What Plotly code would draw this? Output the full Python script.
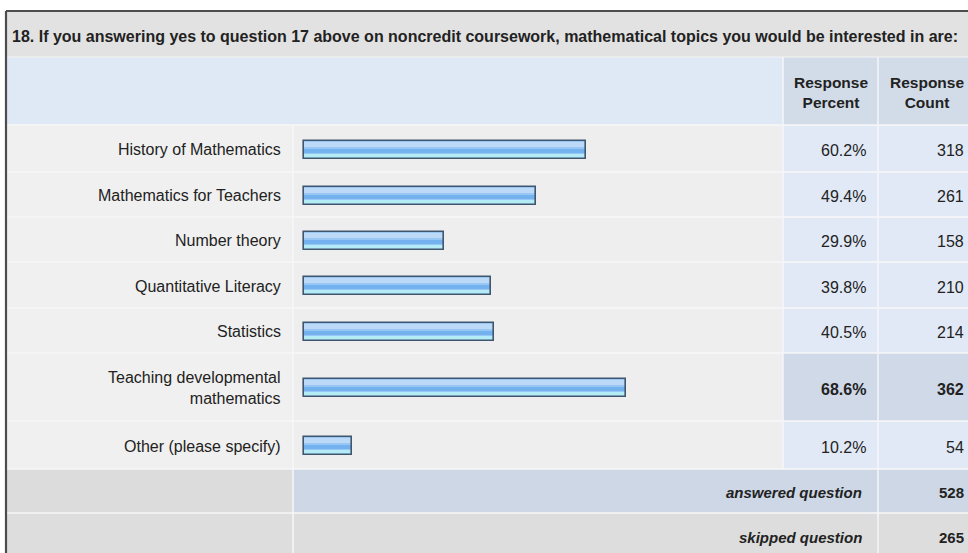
import plotly.graph_objects as go

# ---------------- data ----------------
title_text = "18. If you answering yes to question 17 above on noncredit coursework, mathematical topics you would be interested in are:"
categories = [
    "History of Mathematics",
    "Mathematics for Teachers",
    "Number theory",
    "Quantitative Literacy",
    "Statistics",
    "Teaching developmental<br>mathematics",
    "Other (please specify)",
]
percents = [60.2, 49.4, 29.9, 39.8, 40.5, 68.6, 10.2]
counts = [318, 261, 158, 210, 214, 362, 54]
summary_labels = ["answered question", "skipped question"]
summary_values = [528, 265]
header_labels = ["Response<br>Percent", "Response<br>Count"]

# ---------------- layout constants (pixels) ----------------
W, H = 968, 553
ROW_EDGES = [125, 172, 217, 262, 308, 353, 421, 469, 513, 560]
COL_LABEL_END = 293
COL_PCT_START = 783
COL_CNT_START = 878
BAR_X0, BAR_X100 = 304, 773
DOMAIN_X0 = 298
FONT = "Liberation Sans, Arial, sans-serif"
TXT = "#222222"


def px(x):
    """pixel x -> paper fraction"""
    return x / W


PPU = (BAR_X100 - BAR_X0) / 100.0
x_lo = -(BAR_X0 - DOMAIN_X0) / PPU

centers = [(ROW_EDGES[i] + ROW_EDGES[i + 1]) / 2 for i in range(len(ROW_EDGES) - 1)]
bar_centers = [c + 1 for c in centers[:len(categories)]]

shapes = []


def rect(x0, y0, x1, y1, color):
    shapes.append(dict(type="rect", xref="paper", yref="y", x0=px(x0), x1=px(x1), y0=y0, y1=y1,
                       fillcolor=color, line=dict(width=0), layer="below"))


def line(x0, y0, x1, y1, color, w):
    shapes.append(dict(type="line", xref="paper", yref="y", x0=px(x0), x1=px(x1), y0=y0, y1=y1,
                       line=dict(color=color, width=w), layer="below"))


RIGHT = W + 10
LEFT = 7
# title row
rect(LEFT, 12, RIGHT, 57, "#e2e2e2")
# header row
rect(LEFT, 57, RIGHT, ROW_EDGES[0], "#dfe8f5")
rect(COL_PCT_START, 57, RIGHT, ROW_EDGES[0], "#d2dce9")

# data rows
for i in range(len(categories)):
    y0, y1 = ROW_EDGES[i], ROW_EDGES[i + 1]
    rect(LEFT, y0, COL_LABEL_END, y1, "#f0f0f0")
    rect(COL_LABEL_END, y0, COL_PCT_START, y1, "#eeeeee")
    hl = percents[i] == max(percents)
    rect(COL_PCT_START, y0, RIGHT, y1, "#cfd9e7" if hl else "#e1e9f6")

# summary rows
n = len(categories)
rect(LEFT, ROW_EDGES[n], COL_LABEL_END, ROW_EDGES[n + 1], "#dcdcdc")
rect(COL_LABEL_END, ROW_EDGES[n], RIGHT, ROW_EDGES[n + 1], "#cdd7e5")
rect(LEFT, ROW_EDGES[n + 1], RIGHT, ROW_EDGES[n + 2], "#dddddd")

# grid lines
for e in ROW_EDGES[:-1]:
    line(LEFT, e, RIGHT, e, "#f7f7f7", 1.5)
line(LEFT, 57, RIGHT, 57, "#f4f4f4", 1)
line(COL_LABEL_END, ROW_EDGES[0], COL_LABEL_END, H + 5, "#f7f7f7", 1.5)
line(COL_PCT_START, 57, COL_PCT_START, ROW_EDGES[n], "#f4f6fa", 1.5)
line(COL_CNT_START, 57, COL_CNT_START, H + 5, "#f4f6fa", 1.5)

# outer border
line(6, 11, RIGHT, 11, "#4d4d4d", 2.2)
line(6, 11, 6, H + 5, "#4d4d4d", 2.2)

fig = go.Figure()

# bars with a pseudo gradient
BW = 18
common = dict(y=bar_centers, x=percents, orientation="h",
              hoverinfo="skip", showlegend=False, cliponaxis=False)
fig.add_trace(go.Bar(width=BW, marker=dict(color="#98c7f3", line=dict(width=0)), **common))
fig.add_trace(go.Bar(width=5, offset=-8, marker=dict(color="#bcdaf8", line=dict(width=0)), **common))
fig.add_trace(go.Bar(width=4, offset=-1, marker=dict(color="#74b1ef", line=dict(width=0)), **common))
fig.add_trace(go.Bar(width=4, offset=4, marker=dict(color="#b3ebf7", line=dict(width=0)), **common))
fig.add_trace(go.Bar(width=BW, marker=dict(color="rgba(0,0,0,0)", line=dict(color="#3f566e", width=1.6)), **common))

annotations = []


def text(x, y, s, anchor="right", size=16, bold=False, italic=False, color=TXT):
    if bold:
        s = "<b>" + s + "</b>"
    if italic:
        s = "<i>" + s + "</i>"
    annotations.append(dict(x=px(x), y=y, xref="paper", yref="y", text=s, showarrow=False,
                            xanchor=anchor, yanchor="middle", align=anchor,
                            font=dict(family=FONT, size=size, color=color)))


text(10, 36, title_text, anchor="left", size=16, bold=True)
text((COL_PCT_START + COL_CNT_START) / 2, 92, header_labels[0], anchor="center", size=15.5, bold=True)
text((COL_CNT_START + W + 4) / 2 + 2, 92, header_labels[1], anchor="center", size=15.5, bold=True)

for i, cat in enumerate(categories):
    c = centers[i]
    hl = percents[i] == max(percents)
    text(283, c + 1, cat, size=16)
    text(868, c + 2, f"{percents[i]:.1f}%", size=16, bold=hl)
    text(966, c + 2, str(counts[i]), size=16, bold=hl)

for j, lab in enumerate(summary_labels):
    c = centers[n + j]
    text(864, c + 1, lab, size=15, bold=True, italic=True)
    text(966, c + 1, str(summary_values[j]), size=15, bold=True)

fig.update_layout(
    width=W, height=H,
    margin=dict(l=0, r=0, t=0, b=0),
    paper_bgcolor="white", plot_bgcolor="rgba(0,0,0,0)",
    barmode="overlay", bargap=0,
    xaxis=dict(domain=[px(DOMAIN_X0), px(BAR_X100)], range=[x_lo, 100], visible=False, fixedrange=True),
    yaxis=dict(domain=[0, 1], range=[H, 0], visible=False, fixedrange=True),
    shapes=shapes,
    annotations=annotations,
)

fig.write_html(
    "out.html",
    config={"displayModeBar": False},
    post_script="document.body.style.margin='0';document.body.style.overflow='hidden';",
)
